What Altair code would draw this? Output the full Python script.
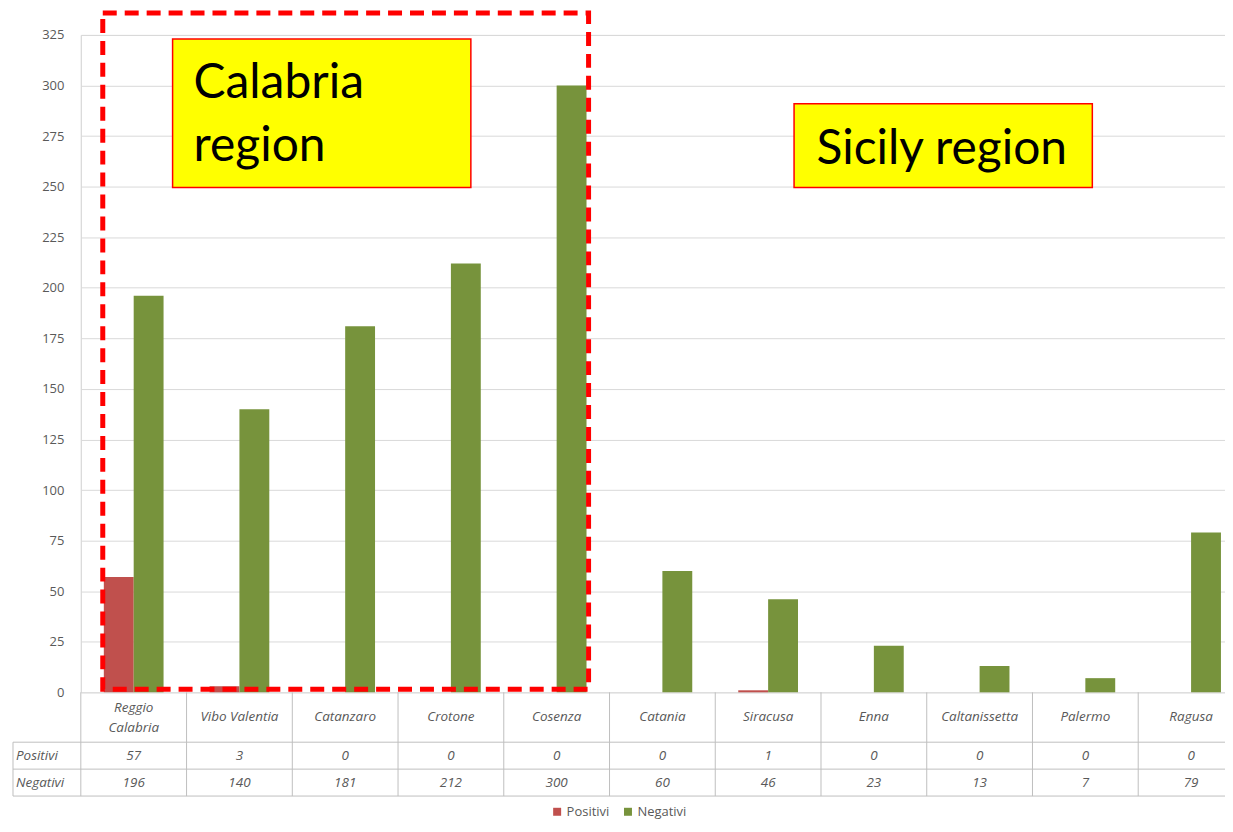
import altair as alt
import pandas as pd

categories = ["Reggio\nCalabria", "Vibo Valentia", "Catanzaro", "Crotone", "Cosenza",
              "Catania", "Siracusa", "Enna", "Caltanissetta", "Palermo", "Ragusa"]
positivi = [57, 3, 0, 0, 0, 0, 1, 0, 0, 0, 0]
negativi = [196, 140, 181, 212, 300, 60, 46, 23, 13, 7, 79]
series = ["Positivi", "Negativi"]
colors = ["#c0504d", "#77933c"]
y_ticks = [0, 25, 50, 75, 100, 125, 150, 175, 200, 225, 250, 275, 300, 325]
row_labels = ["Positivi", "Negativi"]

rows = []
for c, p, n in zip(categories, positivi, negativi):
    rows.append({"cat": c, "series": "Positivi", "value": p})
    rows.append({"cat": c, "series": "Negativi", "value": n})
df = pd.DataFrame(rows)
cat_df = pd.DataFrame({"cat": categories})
one = pd.DataFrame({"k": [0]})

FONT = "Open Sans"
GREY = "#595959"
LINE = "#bfbfbf"

x_scale = alt.Scale(domain=categories, range=[0, 1166], paddingInner=0, paddingOuter=0)
x_enc = alt.X("cat:N", sort=categories, scale=x_scale, axis=None)

bars = alt.Chart(df).mark_bar().encode(
    x=x_enc,
    xOffset=alt.XOffset("series:N", sort=series,
                        scale=alt.Scale(domain=series, paddingInner=0, paddingOuter=0.77)),
    y=alt.Y("value:Q", scale=alt.Scale(domain=[0, 325], nice=False, zero=True),
            axis=alt.Axis(values=y_ticks, title=None, grid=True, gridColor="#d9d9d9",
                          domainColor="#d9d9d9", tickSize=0, labelPadding=17,
                          labelFont=FONT, labelFontSize=13, labelColor=GREY)),
    color=alt.Color("series:N", scale=alt.Scale(domain=series, range=colors),
                    legend=alt.Legend(orient="none", legendX=471, legendY=772,
                                      direction="horizontal", title=None,
                                      symbolType="square", symbolSize=64,
                                      symbolStrokeWidth=0, labelFont=FONT,
                                      labelFontSize=13, labelColor=GREY,
                                      labelOffset=3, columnPadding=12)),
)

# table grid lines
hlines = [
    alt.Chart(one).mark_rule(color=LINE, strokeWidth=1).encode(
        x=alt.value(-68), x2=alt.value(1166), y=alt.value(yy))
    for yy in (709, 736, 763)
]
vlines = alt.Chart(cat_df).mark_rule(color=LINE, strokeWidth=1).encode(
    x=alt.X("cat:N", sort=categories, scale=x_scale, axis=None, bandPosition=0),
    y=alt.value(659), y2=alt.value(763))
vleft = alt.Chart(one).mark_rule(color=LINE, strokeWidth=1).encode(
    x=alt.value(-68), y=alt.value(709), y2=alt.value(763))

txt = dict(font=FONT, fontStyle="italic", fontSize=13.5, color=GREY, baseline="middle")

header1 = alt.Chart(cat_df).transform_filter("indexof(datum.cat, '\\n') < 0").mark_text(**txt).encode(
    x=x_enc, y=alt.value(684), text="cat:N")
header2 = alt.Chart(cat_df).transform_filter("indexof(datum.cat, '\\n') >= 0").mark_text(
    lineBreak="\n", lineHeight=20, **txt).encode(
    x=x_enc, y=alt.value(675), text="cat:N")
pos_row = alt.Chart(df).transform_filter(alt.datum.series == "Positivi").mark_text(**txt).encode(
    x=x_enc, y=alt.value(723), text="value:Q")
neg_row = alt.Chart(df).transform_filter(alt.datum.series == "Negativi").mark_text(**txt).encode(
    x=x_enc, y=alt.value(750), text="value:Q")
lab_pos = alt.Chart(pd.DataFrame({"label": [row_labels[0]]})).mark_text(align="left", **txt).encode(
    x=alt.value(-65), y=alt.value(723), text="label:N")
lab_neg = alt.Chart(pd.DataFrame({"label": [row_labels[1]]})).mark_text(align="left", **txt).encode(
    x=alt.value(-65), y=alt.value(750), text="label:N")

# annotations
box_cal = alt.Chart(one).mark_rect(fill="#ffff00", stroke="#ff0000", strokeWidth=1.5).encode(
    x=alt.value(92), x2=alt.value(391), y=alt.value(4), y2=alt.value(153))
box_sic = alt.Chart(one).mark_rect(fill="#ffff00", stroke="#ff0000", strokeWidth=1.5).encode(
    x=alt.value(715), x2=alt.value(1014), y=alt.value(69), y2=alt.value(153))
ann = dict(font="Lato", fontSize=48, color="#000000", baseline="alphabetic")
t_cal1 = alt.Chart(pd.DataFrame({"t": ["Calabria"]})).mark_text(align="left", **ann).encode(
    x=alt.value(113), y=alt.value(63), text="t:N")
t_cal2 = alt.Chart(pd.DataFrame({"t": ["region"]})).mark_text(align="left", **ann).encode(
    x=alt.value(113), y=alt.value(126), text="t:N")
t_sic = alt.Chart(pd.DataFrame({"t": ["Sicily region"]})).mark_text(align="center", **ann).encode(
    x=alt.value(863), y=alt.value(129), text="t:N")
dashed = alt.Chart(one).mark_rect(fill="transparent", stroke="#ff0000", strokeWidth=5,
                                  strokeDash=[14, 8]).encode(
    x=alt.value(22), x2=alt.value(509), y=alt.value(-22), y2=alt.value(656))

chart = alt.layer(
    bars, *hlines, vlines, vleft, header1, header2, pos_row, neg_row, lab_pos, lab_neg,
    box_cal, box_sic, t_cal1, t_cal2, t_sic, dashed
).properties(
    width=1147, height=659, autosize="none",
    padding={"left": 73, "top": 26, "right": 0, "bottom": 130},
).configure_view(stroke=None).configure(background="white")

chart.save("out.html", embed_options={"renderer": "svg", "actions": False})
